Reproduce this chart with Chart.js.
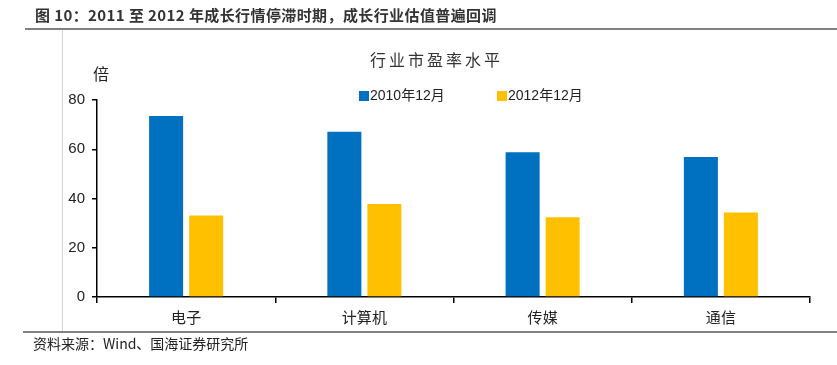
<!DOCTYPE html>
<html>
<head>
<meta charset="utf-8">
<script src="https://cdn.jsdelivr.net/npm/chart.js@4"></script>
<style>
  html, body { margin:0; padding:0; background:#fff; width:837px; height:365px; overflow:hidden; }
  #wrap { position:relative; width:837px; height:365px; }
  canvas { position:absolute; left:0; top:0; }
  .abs { position:absolute; white-space:nowrap; }
  #hdr { left:35px; top:6px; font:bold 15px "Noto Sans CJK SC", sans-serif; letter-spacing:0.4px; color:#333; line-height:18px; }
  #hline { left:25px; top:28px; width:812px; height:2px; background:#808080; }
  #vline { left:62px; top:30px; width:1px; height:301px; background:#d6d6d6; }
  #bline { left:23px; top:331px; width:814px; height:2px; background:#808080; }
  #src { left:33px; top:334px; font:14px "Noto Sans CJK SC", sans-serif; color:#222; line-height:18px; }
  #ctitle { left:370px; top:49px; font:16px "Noto Sans CJK SC", sans-serif; letter-spacing:3px; color:#333; line-height:20px; }
  #unit { left:93px; top:63px; font:16px "Noto Sans CJK SC", sans-serif; color:#222; line-height:20px; }
  .lg { top:86px; font:14px "Liberation Sans", "Noto Sans CJK SC", sans-serif; color:#222; line-height:18px; }
  .sw { display:inline-block; width:10px; height:10px; margin-right:1px; vertical-align:-1px; }
</style>
</head>
<body>
<div id="wrap">
  <canvas id="c" width="837" height="365"></canvas>
  <div class="abs" id="hdr">图 10：2011 至 2012 年成长行情停滞时期，成长行业估值普遍回调</div>
  <div class="abs" id="hline"></div>
  <div class="abs" id="vline"></div>
  <div class="abs" id="bline"></div>
  <div class="abs" id="src">资料来源：Wind、国海证券研究所</div>
  <div class="abs" id="ctitle">行业市盈率水平</div>
  <div class="abs" id="unit">倍</div>
  <div class="abs lg" id="lg1" style="left:359px"><span class="sw" style="background:#0070C0"></span>2010年12月</div>
  <div class="abs lg" id="lg2" style="left:497px"><span class="sw" style="background:#FFC000"></span>2012年12月</div>
</div>
<script>
const categories = ["电子", "计算机", "传媒", "通信"];
const seriesNames = ["2010年12月", "2012年12月"];
const pe2010 = [73.5, 67.1, 58.8, 56.9];
const pe2012 = [33.1, 37.8, 32.4, 34.3];
const yTicks = [0, 20, 40, 60, 80];

const ctx = document.getElementById('c');
new Chart(ctx, {
  type: 'bar',
  data: {
    labels: categories,
    datasets: [
      { label: seriesNames[0], data: pe2010, backgroundColor: '#0070C0', borderWidth: 0,
        categoryPercentage: 0.449, barPercentage: 0.85 },
      { label: seriesNames[1], data: pe2012, backgroundColor: '#FFC000', borderWidth: 0,
        categoryPercentage: 0.449, barPercentage: 0.85 }
    ]
  },
  options: {
    responsive: false,
    animation: false,
    devicePixelRatio: 1,
    layout: { padding: { left: 0, right: 27, top: 100, bottom: 0 } },
    plugins: {
      legend: { display: false },
      title: { display: false },
      tooltip: { enabled: false }
    },
    scales: {
      x: {
        afterFit: (s) => { s.height = 68; },
        border: { color: '#000', width: 1.5 },
        grid: { display: true, drawOnChartArea: false, drawTicks: true, tickLength: 6, color: '#000', lineWidth: 1.5, offset: true },
        ticks: { color: '#222', padding: 5, font: { family: '"Noto Sans CJK SC", sans-serif', size: 15 } }
      },
      y: {
        min: 0, max: 80,
        afterFit: (s) => { s.width = 97; },
        afterBuildTicks: (s) => { s.ticks = yTicks.map(v => ({ value: v })); },
        border: { color: '#000', width: 1.5 },
        grid: { display: true, drawOnChartArea: false, drawTicks: true, tickLength: 5, color: '#000', lineWidth: 1.5 },
        ticks: { color: '#222', padding: 7, font: { family: '"Liberation Sans", Arial, sans-serif', size: 15 } }
      }
    }
  }
});
</script>
</body>
</html>
